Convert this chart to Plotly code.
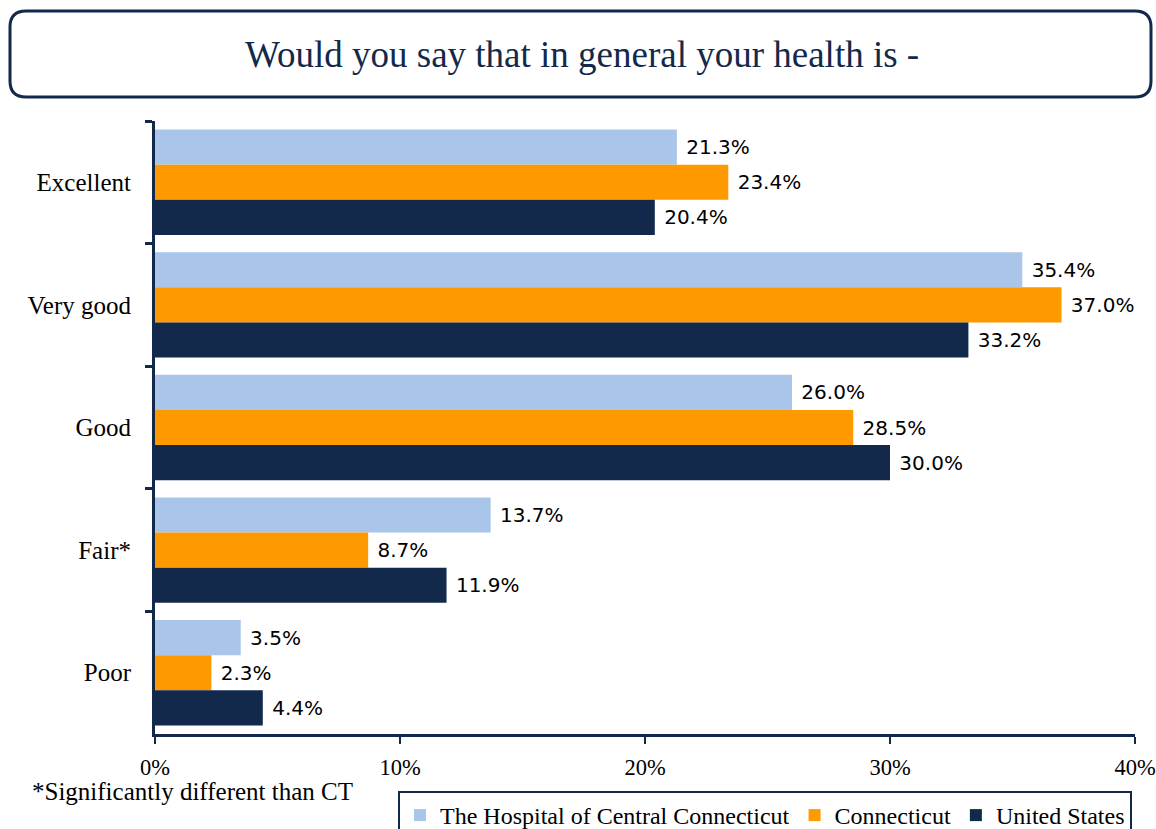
import plotly.graph_objects as go

categories = ["Excellent", "Very good", "Good", "Fair*", "Poor"]
series_names = ["The Hospital of Central Connecticut", "Connecticut", "United States"]
hospital = [21.3, 35.4, 26.0, 13.7, 3.5]
connecticut = [23.4, 37.0, 28.5, 8.7, 2.3]
united_states = [20.4, 33.2, 30.0, 11.9, 4.4]
colors = ["#A9C6EA", "#FF9900", "#13294B"]
x_ticks = [0, 10, 20, 30, 40]

W, H = 1156, 829
L, T = 155, 121
pw, ph = 980, 613
R = W - L - pw
B = H - T - ph

def px(x):
    return (x - L) / pw

def py(y):
    return (T + ph - y) / ph

fig = go.Figure()
for name, vals, col in zip(series_names, [hospital, connecticut, united_states], colors):
    fig.add_trace(go.Bar(
        y=categories, x=vals, name=name, orientation="h",
        marker=dict(color=col, line=dict(width=0)),
        text=[f" {v:.1f}%" for v in vals], textposition="outside",
        textfont=dict(family="DejaVu Sans", size=20, color="#000000"),
        cliponaxis=False,
    ))

# rounded title box
x0, x1 = px(10), px(1151)
y0, y1 = py(97), py(11)
rx, ry = 16 / pw, 16 / ph
path = (f"M {x0+rx},{y1} L {x1-rx},{y1} Q {x1},{y1} {x1},{y1-ry} "
        f"L {x1},{y0+ry} Q {x1},{y0} {x1-rx},{y0} L {x0+rx},{y0} "
        f"Q {x0},{y0} {x0},{y0+ry} L {x0},{y1-ry} Q {x0},{y1} {x0+rx},{y1} Z")
fig.add_shape(type="path", path=path, xref="paper", yref="paper",
              line=dict(color="#13294B", width=3), fillcolor="rgba(0,0,0,0)")

fig.add_annotation(text="Would you say that in general your health is -",
                   x=px(582), y=py(54), xref="paper", yref="paper",
                   showarrow=False, xanchor="center", yanchor="middle",
                   font=dict(family="Liberation Serif", size=37, color="#13294B"))

fig.add_annotation(text="*Significantly different than CT",
                   x=px(30), y=py(792), xref="paper", yref="paper",
                   showarrow=False, xanchor="left", yanchor="middle",
                   font=dict(family="Liberation Serif", size=25, color="#000000"))

fig.update_layout(
    width=W, height=H,
    margin=dict(l=L, r=R, t=T, b=B, autoexpand=False),
    paper_bgcolor="white", plot_bgcolor="white",
    barmode="group", bargap=0.14, bargroupgap=0,
    font=dict(family="Liberation Serif", size=20, color="#000000"),
    legend=dict(orientation="h", x=px(398), y=py(791), xanchor="left", yanchor="top",
                bordercolor="#13294B", borderwidth=2,
                font=dict(family="Liberation Serif", size=24, color="#000000"),
                traceorder="normal"),
    showlegend=True,
)
fig.update_xaxes(range=[0, 40], tickvals=x_ticks, ticktext=[f"{t}%" for t in x_ticks],
                 showgrid=False, zeroline=False, showline=True, linecolor="#13294B",
                 linewidth=3, ticks="outside", ticklen=7, tickwidth=2, tickcolor="#13294B",
                 tickfont=dict(family="Liberation Serif", size=22.5), ticklabelstandoff=4)
fig.update_yaxes(categoryorder="array", categoryarray=categories, autorange="reversed",
                 showgrid=False, zeroline=False, showline=True, linecolor="#13294B",
                 linewidth=3, ticks="outside", ticklen=7, tickwidth=3, tickcolor="#13294B",
                 tickson="boundaries", tickfont=dict(family="Liberation Serif", size=25),
                 ticklabelstandoff=16)

fig.write_html("out.html", config={"displayModeBar": False},
               post_script="document.body.style.margin='0';document.body.style.overflow='hidden';")
